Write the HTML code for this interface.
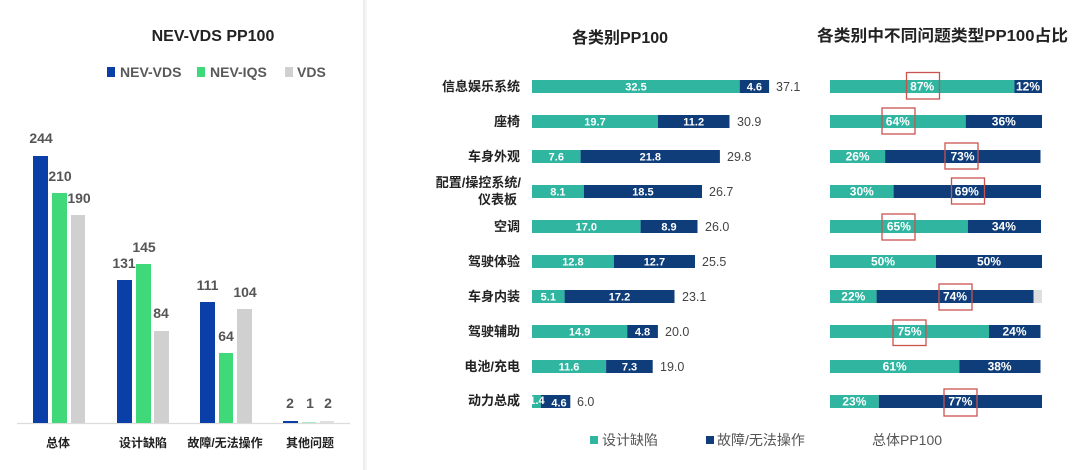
<!DOCTYPE html>
<html>
<head>
<meta charset="utf-8">
<style>
html,body{margin:0;padding:0;background:#fff;}
svg{display:block;}
text{font-family:"Liberation Sans","Noto Sans CJK SC",sans-serif;}
.lbl{font-size:13px;font-weight:bold;fill:#222;text-anchor:end;}
.seg{font-size:11px;font-weight:bold;fill:#fff;text-anchor:middle;}
.tot{font-size:12.5px;fill:#444;}
.pct{font-size:12px;font-weight:bold;fill:#fff;text-anchor:middle;}
.val{font-size:14px;font-weight:bold;fill:#555;text-anchor:middle;}
.cat{font-size:12px;font-weight:bold;fill:#222;text-anchor:middle;}
.box{fill:none;stroke:#c9534f;stroke-width:1.3;}
</style>
</head>
<body>
<svg width="1080" height="470" viewBox="0 0 1080 470" xmlns="http://www.w3.org/2000/svg">
<rect width="1080" height="470" fill="#fff"/>
<!-- divider -->
<rect x="363" y="0" width="2" height="470" fill="#ececec"/>
<rect x="365" y="0" width="2" height="470" fill="#f6f6f6"/>

<!-- LEFT CHART -->
<text x="213" y="41" font-size="16" font-weight="bold" fill="#222" text-anchor="middle">NEV-VDS PP100</text>
<rect x="107" y="67" width="8" height="10" fill="#0b3fa8"/>
<text x="120" y="77" font-size="14" font-weight="bold" fill="#595959">NEV-VDS</text>
<rect x="197" y="67" width="8" height="10" fill="#40d97a"/>
<text x="210" y="77" font-size="14" font-weight="bold" fill="#595959">NEV-IQS</text>
<rect x="285" y="67" width="8" height="10" fill="#d0d0d0"/>
<text x="297" y="77" font-size="14" font-weight="bold" fill="#595959">VDS</text>

<line x1="17" y1="423.5" x2="350" y2="423.5" stroke="#dcdcdc" stroke-width="1.2"/>

<!-- group 1 -->
<rect x="33" y="156" width="15" height="267" fill="#0b3fa8"/>
<rect x="52" y="193" width="15" height="230" fill="#40d97a"/>
<rect x="71" y="215" width="14" height="208" fill="#d0d0d0"/>
<text class="val" x="41" y="143">244</text>
<text class="val" x="60" y="181">210</text>
<text class="val" x="79" y="203">190</text>
<!-- group 2 -->
<rect x="117" y="280" width="15" height="143" fill="#0b3fa8"/>
<rect x="136" y="264" width="15" height="159" fill="#40d97a"/>
<rect x="154" y="331" width="15" height="92" fill="#d0d0d0"/>
<text class="val" x="124" y="268">131</text>
<text class="val" x="144" y="252">145</text>
<text class="val" x="161" y="318">84</text>
<!-- group 3 -->
<rect x="200" y="302" width="15" height="121" fill="#0b3fa8"/>
<rect x="219" y="353" width="14" height="70" fill="#40d97a"/>
<rect x="237" y="309" width="15" height="114" fill="#d0d0d0"/>
<text class="val" x="207.5" y="290">111</text>
<text class="val" x="226" y="341">64</text>
<text class="val" x="245" y="297">104</text>
<!-- group 4 -->
<rect x="283" y="421" width="15" height="2" fill="#0b3fa8"/>
<rect x="302" y="422" width="14" height="1" fill="#a8e8c0"/>
<rect x="320" y="421" width="14" height="2" fill="#e0e0e0"/>
<text class="val" x="290" y="408">2</text>
<text class="val" x="310" y="408">1</text>
<text class="val" x="328" y="408">2</text>

<text class="cat" x="58" y="447">总体</text>
<text class="cat" x="143" y="447">设计缺陷</text>
<text class="cat" x="225" y="447">故障/无法操作</text>
<text class="cat" x="310" y="447">其他问题</text>

<!-- MIDDLE CHART -->
<text x="620" y="43" font-size="16" font-weight="bold" fill="#222" text-anchor="middle">各类别PP100</text>

<!-- row labels -->
<text class="lbl" x="520" y="91">信息娱乐系统</text>
<text class="lbl" x="520" y="126">座椅</text>
<text class="lbl" x="520" y="161">车身外观</text>
<text class="lbl" x="521" y="187">配置/操控系统/</text>
<text class="lbl" x="517" y="204">仪表板</text>
<text class="lbl" x="520" y="231">空调</text>
<text class="lbl" x="520" y="266">驾驶体验</text>
<text class="lbl" x="520" y="301">车身内装</text>
<text class="lbl" x="520" y="336">驾驶辅助</text>
<text class="lbl" x="520" y="371">电池/充电</text>
<text class="lbl" x="520" y="405">动力总成</text>

<g>
<rect x="532" y="80" width="207.7" height="13" fill="#2fb5a0"/>
<rect x="739.7" y="80" width="29.4" height="13" fill="#0f3d7a"/>
<text class="seg" x="636" y="90.5">32.5</text>
<text class="seg" x="754.4" y="90.5">4.6</text>
<text class="tot" x="776" y="91">37.1</text>

<rect x="532" y="115" width="125.9" height="13" fill="#2fb5a0"/>
<rect x="657.9" y="115" width="71.6" height="13" fill="#0f3d7a"/>
<text class="seg" x="595" y="125.5">19.7</text>
<text class="seg" x="693.7" y="125.5">11.2</text>
<text class="tot" x="737" y="126">30.9</text>

<rect x="532" y="150" width="48.6" height="13" fill="#2fb5a0"/>
<rect x="580.6" y="150" width="139.3" height="13" fill="#0f3d7a"/>
<text class="seg" x="556.3" y="160.5">7.6</text>
<text class="seg" x="650.3" y="160.5">21.8</text>
<text class="tot" x="727" y="161">29.8</text>

<rect x="532" y="185" width="51.8" height="13" fill="#2fb5a0"/>
<rect x="583.8" y="185" width="118.2" height="13" fill="#0f3d7a"/>
<text class="seg" x="557.9" y="195.5">8.1</text>
<text class="seg" x="642.9" y="195.5">18.5</text>
<text class="tot" x="709" y="196">26.7</text>

<rect x="532" y="220" width="108.6" height="13" fill="#2fb5a0"/>
<rect x="640.6" y="220" width="56.9" height="13" fill="#0f3d7a"/>
<text class="seg" x="586.3" y="230.5">17.0</text>
<text class="seg" x="669" y="230.5">8.9</text>
<text class="tot" x="705" y="231">26.0</text>

<rect x="532" y="255" width="81.8" height="13" fill="#2fb5a0"/>
<rect x="613.8" y="255" width="81.2" height="13" fill="#0f3d7a"/>
<text class="seg" x="572.9" y="265.5">12.8</text>
<text class="seg" x="654.4" y="265.5">12.7</text>
<text class="tot" x="702" y="266">25.5</text>

<rect x="532" y="290" width="32.6" height="13" fill="#2fb5a0"/>
<rect x="564.6" y="290" width="109.9" height="13" fill="#0f3d7a"/>
<text class="seg" x="548.3" y="300.5">5.1</text>
<text class="seg" x="619.5" y="300.5">17.2</text>
<text class="tot" x="682" y="301">23.1</text>

<rect x="532" y="325" width="95.2" height="13" fill="#2fb5a0"/>
<rect x="627.2" y="325" width="30.7" height="13" fill="#0f3d7a"/>
<text class="seg" x="579.6" y="335.5">14.9</text>
<text class="seg" x="642.5" y="335.5">4.8</text>
<text class="tot" x="665" y="336">20.0</text>

<rect x="532" y="360" width="74.1" height="13" fill="#2fb5a0"/>
<rect x="606.1" y="360" width="46.6" height="13" fill="#0f3d7a"/>
<text class="seg" x="569" y="370.5">11.6</text>
<text class="seg" x="629.5" y="370.5">7.3</text>
<text class="tot" x="660" y="371">19.0</text>

<rect x="532" y="395" width="8.9" height="13" fill="#2fb5a0"/>
<rect x="540.9" y="395" width="29.4" height="13" fill="#0f3d7a"/>
<text class="seg" x="537" y="404">1.4</text>
<text class="seg" x="559" y="406.5">4.6</text>
<text class="tot" x="577" y="406">6.0</text>
</g>

<!-- legend bottom -->
<rect x="590" y="436" width="8" height="8" fill="#2fb5a0"/>
<text x="602" y="445" font-size="14" fill="#555">设计缺陷</text>
<rect x="706" y="436" width="8" height="8" fill="#0f3d7a"/>
<text x="717" y="445" font-size="14" fill="#555">故障/无法操作</text>
<text x="872" y="445" font-size="14" fill="#555">总体PP100</text>

<!-- RIGHT CHART -->
<text x="817" y="41" font-size="16" font-weight="bold" fill="#222" textLength="251" lengthAdjust="spacingAndGlyphs">各类别中不同问题类型PP100占比</text>

<g>
<rect x="830" y="290" width="212" height="13" fill="#dedede"/>

<rect x="830" y="80" width="184.4" height="13" fill="#2fb5a0"/>
<rect x="1014.4" y="80" width="27.6" height="13" fill="#0f3d7a"/>
<text class="pct" x="922.2" y="90.5">87%</text>
<text class="pct" x="1028" y="90.5">12%</text>

<rect x="830" y="115" width="135.7" height="13" fill="#2fb5a0"/>
<rect x="965.7" y="115" width="76.3" height="13" fill="#0f3d7a"/>
<text class="pct" x="897.8" y="125.5">64%</text>
<text class="pct" x="1003.8" y="125.5">36%</text>

<rect x="830" y="150" width="55.1" height="13" fill="#2fb5a0"/>
<rect x="885.1" y="150" width="155.4" height="13" fill="#0f3d7a"/>
<text class="pct" x="857.6" y="160.5">26%</text>
<text class="pct" x="962.5" y="160.5">73%</text>

<rect x="830" y="185" width="63.6" height="13" fill="#2fb5a0"/>
<rect x="893.6" y="185" width="147.4" height="13" fill="#0f3d7a"/>
<text class="pct" x="861.8" y="195.5">30%</text>
<text class="pct" x="966.8" y="195.5">69%</text>

<rect x="830" y="220" width="137.8" height="13" fill="#2fb5a0"/>
<rect x="967.8" y="220" width="73.2" height="13" fill="#0f3d7a"/>
<text class="pct" x="898.9" y="230.5">65%</text>
<text class="pct" x="1003.9" y="230.5">34%</text>

<rect x="830" y="255" width="106" height="13" fill="#2fb5a0"/>
<rect x="936" y="255" width="106" height="13" fill="#0f3d7a"/>
<text class="pct" x="883" y="265.5">50%</text>
<text class="pct" x="989" y="265.5">50%</text>

<rect x="830" y="290" width="46.6" height="13" fill="#2fb5a0"/>
<rect x="876.6" y="290" width="156.9" height="13" fill="#0f3d7a"/>
<text class="pct" x="853.3" y="300.5">22%</text>
<text class="pct" x="955" y="300.5">74%</text>

<rect x="830" y="325" width="159" height="13" fill="#2fb5a0"/>
<rect x="989" y="325" width="51.5" height="13" fill="#0f3d7a"/>
<text class="pct" x="909.5" y="335.5">75%</text>
<text class="pct" x="1014.5" y="335.5">24%</text>

<rect x="830" y="360" width="129.3" height="13" fill="#2fb5a0"/>
<rect x="959.3" y="360" width="81.2" height="13" fill="#0f3d7a"/>
<text class="pct" x="894.7" y="370.5">61%</text>
<text class="pct" x="999.6" y="370.5">38%</text>

<rect x="830" y="395" width="48.8" height="13" fill="#2fb5a0"/>
<rect x="878.8" y="395" width="163.2" height="13" fill="#0f3d7a"/>
<text class="pct" x="854.4" y="405.5">23%</text>
<text class="pct" x="960.4" y="405.5">77%</text>
</g>

<!-- red boxes -->
<rect class="box" x="906.5" y="72.5" width="33" height="26.5"/>
<rect class="box" x="882" y="108" width="33" height="26"/>
<rect class="box" x="945" y="143" width="33" height="26"/>
<rect class="box" x="951.5" y="178" width="33" height="26"/>
<rect class="box" x="882" y="214" width="33" height="26"/>
<rect class="box" x="939" y="284" width="33" height="26"/>
<rect class="box" x="893" y="320" width="33" height="25.5"/>
<rect class="box" x="944" y="389" width="33" height="27"/>
</svg>
</body>
</html>
